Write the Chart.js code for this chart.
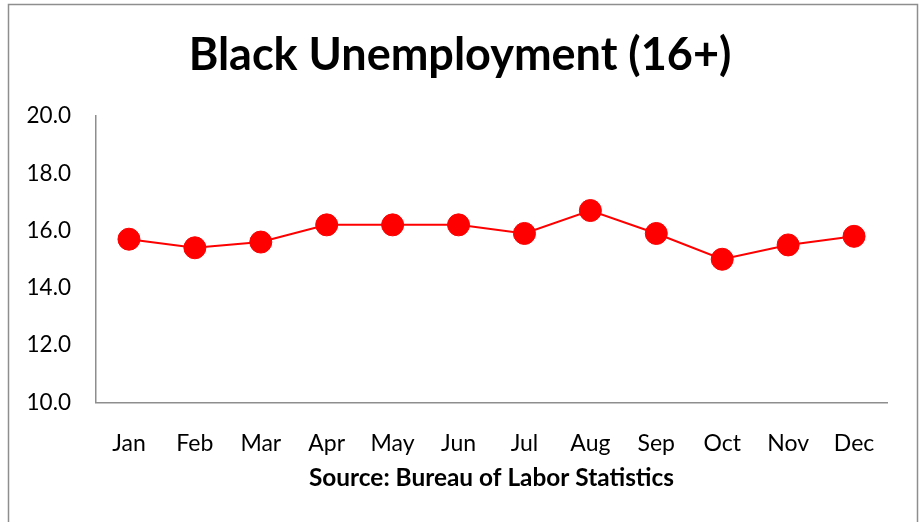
<!DOCTYPE html>
<html>
<head>
<meta charset="utf-8">
<script src="https://cdn.jsdelivr.net/npm/chart.js@4.4.1/dist/chart.umd.min.js"></script>
<style>
  html, body { margin: 0; padding: 0; background: #ffffff; }
  #wrap { width: 920px; height: 522px; }
</style>
</head>
<body>
<div id="wrap"><canvas id="c" width="920" height="522"></canvas></div>
<script>
const chartTitle = 'Black Unemployment (16+)';
const sourceLabel = 'Source: Bureau of Labor Statistics';
const months = ['Jan','Feb','Mar','Apr','May','Jun','Jul','Aug','Sep','Oct','Nov','Dec'];
const unemploymentRate = [15.7, 15.4, 15.6, 16.2, 16.2, 16.2, 15.9, 16.7, 15.9, 15.0, 15.5, 15.8];
const yMin = 10;
const yMax = 20;
const yStep = 2;

const FONT = 'Lato, "Open Sans", "DejaVu Sans", sans-serif';

const frame = {
  id: 'frame',
  beforeDraw(chart) {
    const ctx = chart.ctx;
    ctx.save();
    ctx.fillStyle = '#ffffff';
    ctx.fillRect(0, 0, chart.width, chart.height);
    ctx.strokeStyle = '#8e8e8e';
    ctx.lineWidth = 1.5;
    ctx.strokeRect(8.5, 4.5, 909, 600);
    ctx.restore();
  }
};

new Chart(document.getElementById('c'), {
  type: 'line',
  data: {
    labels: months,
    datasets: [{
      data: unemploymentRate,
      borderColor: '#ff0000',
      backgroundColor: '#ff0000',
      borderWidth: 2,
      pointRadius: 11,
      pointBorderWidth: 1,
      pointBackgroundColor: '#ff0000',
      pointBorderColor: '#ff0000',
      tension: 0,
      fill: false
    }]
  },
  options: {
    responsive: false,
    animation: false,
    devicePixelRatio: 1,
    layout: { padding: { left: 0, right: 0, top: 0, bottom: 0 } },
    plugins: {
      legend: { display: false },
      tooltip: { enabled: false },
      title: {
        display: true,
        text: chartTitle,
        color: '#000000',
        font: { family: FONT, size: 45, weight: 'bold', lineHeight: 1.2 },
        padding: { top: 28, bottom: 34 }
      }
    },
    scales: {
      x: {
        type: 'category',
        offset: true,
        grid: { display: false, drawTicks: false },
        border: { display: true, color: '#8e8e8e', width: 1.5 },
        ticks: {
          color: '#000000',
          font: { family: FONT, size: 23 },
          padding: 27,
          maxRotation: 0,
          autoSkip: false
        },
        title: {
          display: true,
          text: sourceLabel,
          color: '#000000',
          font: { family: FONT, size: 24.4, weight: 'bold', lineHeight: 1.2 },
          padding: { top: 0, bottom: 29.2 }
        },
        afterFit(scale) { scale.height = 119.5; }
      },
      y: {
        min: yMin,
        max: yMax,
        grid: { display: false, drawTicks: false },
        border: { display: true, color: '#8e8e8e', width: 1.5 },
        ticks: {
          stepSize: yStep,
          color: '#000000',
          font: { family: FONT, size: 22.5 },
          padding: 25,
          callback: (v) => Number(v).toFixed(1)
        },
        afterFit(scale) { scale.width = 96; }
      },
      yRightSpace: {
        position: 'right',
        min: yMin,
        max: yMax,
        grid: { display: false, drawTicks: false },
        border: { display: false },
        ticks: { display: false },
        afterFit(scale) { scale.width = 33; }
      }
    }
  },
  plugins: [frame]
});
</script>
</body>
</html>
